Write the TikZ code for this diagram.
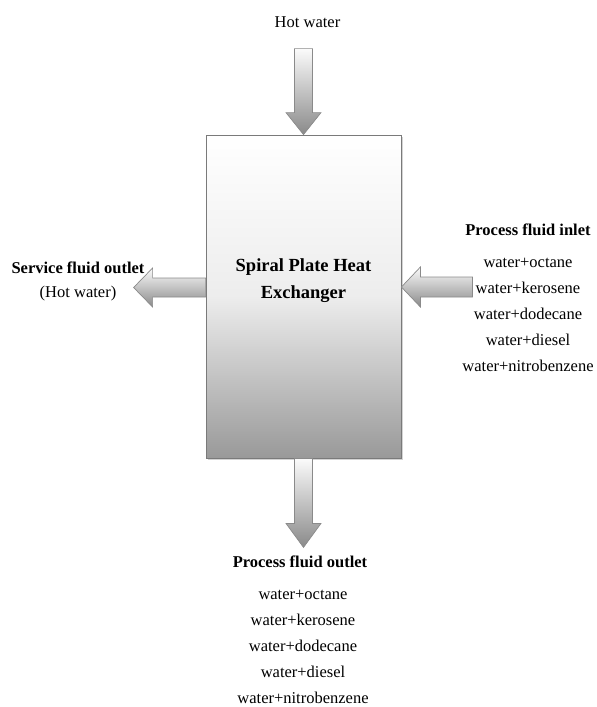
\documentclass[tikz,border=0pt]{standalone}
\usepackage{fontspec}
\setmainfont{Liberation Serif}
\usetikzlibrary{shadows}
\definecolor{edgegray}{HTML}{8A8A8A}
\definecolor{boxedge}{HTML}{7A7A7A}
\definecolor{darkfill}{HTML}{999999}
\tikzset{
  exchanger/.style={draw=boxedge, line width=0.8pt, top color=white, bottom color=darkfill,
    middle color=white!82!darkfill, minimum width=195pt, minimum height=323pt,
    drop shadow={shadow xshift=2pt, shadow yshift=-2pt, opacity=0.35}},
  blockarrow/.style={draw=edgegray, line width=0.7pt, top color=white!96!darkfill, bottom color=darkfill!90!black},
  plain/.style={font=\fontsize{16.5}{26}\selectfont, inner sep=0pt, align=center},
  heading/.style={font=\fontsize{16.5}{20}\selectfont\bfseries, inner sep=0pt, align=center},
  title/.style={font=\fontsize{18.5}{27}\selectfont\bfseries, inner sep=0pt, align=center}
}
\begin{document}
\begin{tikzpicture}[x=1pt, y=-1pt]
\useasboundingbox (0,0) rectangle (597,707);

% main unit
\node[exchanger] (hx) at (303.5,296.5) {};
\node[title] (hxlabel) at (303.5,280.5) {Spiral Plate Heat\\Exchanger};

% hot water entering from the top
\path[blockarrow, shift={(hx.north)}]
  (-9,-86) -- (9,-86) -- (9,-22) -- (17.5,-22) -- (0,0) -- (-17.5,-22) -- (-9,-22) -- cycle;
\node[plain] (hot) at (307.5,22) {Hot water};

% process fluid leaving at the bottom
\path[blockarrow, shift={(hx.south)}]
  (-9,0) -- (9,0) -- (9,65) -- (17.5,65) -- (0,89) -- (-17.5,65) -- (-9,65) -- cycle;

% service fluid leaving on the left
\path[blockarrow, shift={(hx.west)}]
  (0,-18.5) -- (-53,-18.5) -- (-53,-28.5) -- (-72,-9) -- (-53,10.5) -- (-53,0.5) -- (0,0.5) -- cycle;

% process fluid entering on the right
\path[blockarrow, shift={(hx.east)}]
  (71,-19.5) -- (19,-19.5) -- (19,-29.5) -- (0,-9.5) -- (19,10.5) -- (19,0.5) -- (71,0.5) -- cycle;

% labels
\node[heading] (svc) at (78,268) {Service fluid outlet};
\node[plain] (svcsub) at (78,294) {(Hot water)};

\node[heading] (pin) at (528,230) {Process fluid inlet};
\node[plain, anchor=north] (pinlist) at (528,257.5) {water+octane\\water+kerosene\\water+dodecane\\water+diesel\\water+nitrobenzene};

\node[heading] (pout) at (300,562) {Process fluid outlet};
\node[plain, anchor=north] (poutlist) at (303,589.5) {water+octane\\water+kerosene\\water+dodecane\\water+diesel\\water+nitrobenzene};
\end{tikzpicture}
\end{document}
